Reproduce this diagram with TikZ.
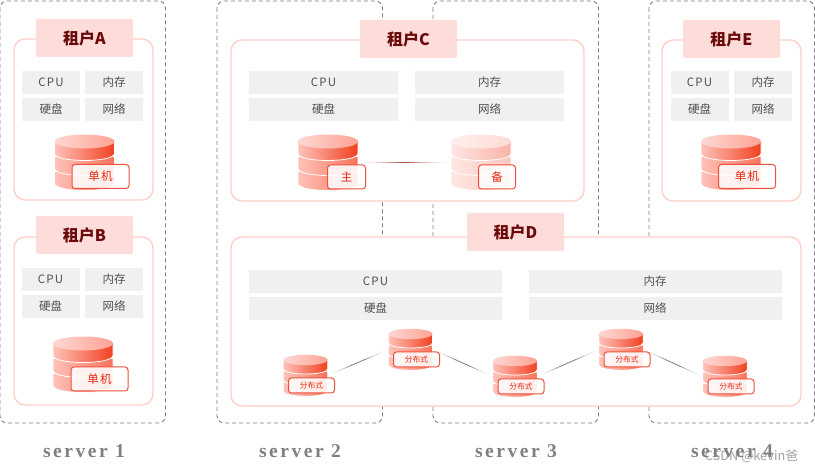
\documentclass[tikz,border=0pt]{standalone}
\usepackage{fontspec}
\setmainfont{Noto Sans CJK SC}
\newfontfamily\spaced[LetterSpace=10]{Noto Sans CJK SC}
\newfontfamily\serverfont[LetterSpace=13]{Liberation Serif}
\usetikzlibrary{arrows.meta}
\definecolor{tenantline}{HTML}{FFCFC8}
\definecolor{tenanthead}{HTML}{FDDCDA}
\definecolor{tenanttext}{HTML}{6B0A0A}
\definecolor{cellfill}{HTML}{F0F0F0}
\definecolor{celltext}{HTML}{505050}
\definecolor{framegray}{HTML}{7F7F7F}
\definecolor{dbred}{HTML}{F0401F}
\definecolor{dbdeep}{HTML}{F8735B}
\definecolor{dblight}{HTML}{FFC2B9}
\definecolor{dbcapl}{HTML}{FDD8D2}
\definecolor{dbcapr}{HTML}{FFA294}
\definecolor{tagred}{HTML}{E8250C}
\tikzset{
  serverframe/.style={draw=framegray,line width=.9pt,dash pattern=on 4pt off 3pt,rounded corners=7pt},
  serverlabel/.style={text=framegray,font=\fontsize{19.5}{22}\selectfont\serverfont\bfseries,inner sep=0pt},
  tenantbox/.style={draw=tenantline,line width=1.4pt,fill=white,rounded corners=11pt,inner sep=0pt},
  tenanttitle/.style={fill=tenanthead,rounded corners=1.5pt,minimum width=97,minimum height=38,inner sep=0pt,
    text=tenanttext,font=\fontsize{16}{18}\selectfont\bfseries},
  cellbox/.style={fill=cellfill,minimum height=23,inner sep=0pt,text=celltext,font=\fontsize{11.5}{13}\selectfont},
  dbtag/.style={draw=tagred!80,line width=1pt,fill=white,fill opacity=.88,text opacity=1,rounded corners=3pt,
    inner sep=0pt,minimum width=57,minimum height=24,text=tagred,font=\fontsize{11.5}{13}\selectfont\spaced},
  dbtagsmall/.style={dbtag,minimum width=46,minimum height=15,font=\fontsize{7.8}{9}\selectfont},
  pics/dbstack/.style={code={
    \foreach \ytop/\rc in {9/dbdeep,-6/dbdeep,-21/dbred}
      \shade[left color=dblight!#1!white,right color=\rc!#1!white,draw=white,line width=.8pt]
        (-30,\ytop) -- (-30,\ytop+12) .. controls (-30,\ytop+21.3) and (30,\ytop+21.3) .. (30,\ytop+12) -- (30,\ytop) -- cycle;
    \shade[left color=dbcapl!#1!white,right color=dbcapr!#1!white] (0,-21) ellipse [x radius=30,y radius=7];
    \coordinate (-w) at (-30,0);
    \coordinate (-e) at (30,0);
  }},
}
\begin{document}
\begin{tikzpicture}[x=1pt,y=-1pt]
    \useasboundingbox (0,0) rectangle (815,473);
    % servers
    \foreach \xl in {0,217,433,649}
      \draw [serverframe] (\xl,1) rectangle (\xl+165.5,423);
    \node [serverlabel] (labelA) at (84,451) {server 1};
    \node [serverlabel] (labelB) at (300,451) {server 2};
    \node [serverlabel] (labelC) at (516,451) {server 3};
    \node [serverlabel] (labelD) at (732,451) {server 4};
    % tenants
    \foreach \nm/\cx/\cy/\bw/\bh/\hx/\hy in {A/83.5/119.5/139/161/84.5/38,B/83.5/321/139/168/84.5/235,C/407.5/120.5/353/161/408.5/39,D/516/321.5/570/169/515.5/232,E/731.5/120.5/139/161/731.5/39} {
      \node [tenantbox,minimum width=\bw,minimum height=\bh] (box\nm) at (\cx,\cy) {};
      \node [tenanttitle] (title\nm) at (\hx,\hy) {租户\nm};
    }
    % resources
    \foreach \nm/\xa/\xb/\bw/\ya/\yb in {A/51/114/58/82.5/109.5,B/50.5/114/58/279.5/306.5,C/323.5/489.5/149/82.5/109.5,D/375.5/655/253/281.5/308.5,E/699.5/763/58/82.5/109.5} {
      \node [cellbox,minimum width=\bw] (cpu\nm) at (\xa,\ya) {\spaced CPU};
      \node [cellbox,minimum width=\bw] (mem\nm) at (\xb,\ya) {内存};
      \node [cellbox,minimum width=\bw] (disk\nm) at (\xa,\yb) {硬盘};
      \node [cellbox,minimum width=\bw] (net\nm) at (\xb,\yb) {网络};
    }
    % databases
    \pic (dbA) at (84.5,162.5) {dbstack=100};
    \node [dbtag] (tagA) at (100.5,176.5) {单机};
    \pic (dbB) at (83,364.5) {dbstack=100};
    \node [dbtag] (tagB) at (99.5,379) {单机};
    \pic (dbE) at (731,162.5) {dbstack=100};
    \node [dbtag] (tagE) at (747,176.5) {单机};
    \pic (dbMain) at (328,162.5) {dbstack=100};
    \node [dbtag,minimum width=38] (tagMain) at (346.5,177) {主};
    \pic (dbBak) at (481,162.5) {dbstack=40};
    \node [dbtag,minimum width=37] (tagBak) at (497,177) {备};
    \foreach \nm/\cx/\cy in {P/305.5/375.5,Q/410.5/349.5,R/515/376.5,S/621/349.5,T/725/376.5} {
      \pic [scale=.74] (db\nm) at (\cx,\cy) {dbstack=100};
      \node [dbtagsmall] (tag\nm) at (\cx+6,\cy+10) {分布式};
    }
    % links
    \foreach \sh/\op in {6/.05,12/.08,18/.1,24/.14,30/.2,36/.3,41/.4}
      \draw [tagred!70!black,opacity=\op,line width=.6pt,shorten <=\sh,shorten >=\sh] (dbMain-e) -- (dbBak-w);
    \foreach \from/\to in {P/Q,Q/R,R/S,S/T}
      \foreach \sh/\op in {4/.05,8/.08,12/.1,16/.14,20/.2,24/.3}
        \draw [black!80,opacity=\op,line width=.7pt,shorten <=\sh,shorten >=\sh] (db\from-e) -- (db\to-w);
    \node [text=gray,opacity=.75,inner sep=0pt,font=\fontsize{12.8}{14}\selectfont] (mark) at (751.5,456) {CSDN @kevin爸};
\end{tikzpicture}
\end{document}
